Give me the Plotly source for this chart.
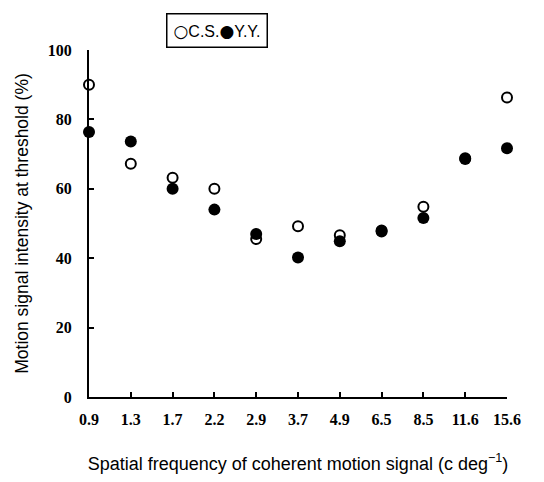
import plotly.graph_objects as go

categories = ["0.9", "1.3", "1.7", "2.2", "2.9", "3.7", "4.9", "6.5", "8.5", "11.6", "15.6"]
cs_values = [90.0, 67.2, 63.2, 60.0, 45.5, 49.2, 46.6, 48.0, 54.8, 68.8, 86.3]
yy_values = [76.4, 73.6, 60.0, 54.0, 47.0, 40.2, 44.9, 47.7, 51.6, 68.6, 71.7]
y_ticks = [0, 20, 40, 60, 80, 100]

fig = go.Figure()
fig.add_trace(go.Scatter(
    x=categories, y=cs_values, mode="markers", name="C.S.",
    marker=dict(symbol="circle-open", size=10, color="black", line=dict(width=2, color="black")),
    cliponaxis=False,
))
fig.add_trace(go.Scatter(
    x=categories, y=yy_values, mode="markers", name="Y.Y.",
    marker=dict(symbol="circle", size=12, color="black"),
    cliponaxis=False,
))

tick_font = dict(family="Liberation Serif", size=16, color="black", weight="bold")
title_font = dict(family="Liberation Sans", size=18, color="black")

# page body has an 8px margin, so the figure is sized/offset to compensate
fig.update_layout(
    width=528, height=466,
    margin=dict(l=81, r=29, t=42, b=77),
    paper_bgcolor="white", plot_bgcolor="white",
    showlegend=False,
    xaxis=dict(
        type="category", categoryorder="array", categoryarray=categories,
        range=[0, 10], showgrid=False, zeroline=False, automargin=False,
        showline=True, linecolor="black", linewidth=2,
        ticks="inside", ticklen=5, tickwidth=1.5, tickcolor="black",
        tickfont=tick_font, ticklabelstandoff=7,
        title=dict(text="Spatial frequency of coherent motion signal (c deg<sup>−1</sup>)",
                   font=title_font, standoff=36),
    ),
    yaxis=dict(
        range=[0, 100], tickvals=y_ticks, showgrid=False, zeroline=False, automargin=False,
        showline=True, linecolor="black", linewidth=2,
        ticks="inside", ticklen=5, tickwidth=1.5, tickcolor="black",
        tickfont=tick_font, ticklabelstandoff=12,
        title=dict(text="Motion signal intensity at threshold (%)",
                   font=dict(family="Liberation Sans", size=17.5, color="black"), standoff=15),
    ),
    annotations=[dict(
        text='<span style="font-family:DejaVu Sans;font-size:17px">○</span>C.S.'
             '<span style="font-family:DejaVu Sans;font-size:17px">●</span>Y.Y.',
        xref="paper", yref="paper", x=0.306, y=1.055,
        xanchor="center", yanchor="middle", showarrow=False,
        font=dict(family="Liberation Sans", size=16, color="black"),
        bordercolor="black", borderwidth=1.5, borderpad=6, bgcolor="white",
    )],
)

fig.write_html("out.html")
